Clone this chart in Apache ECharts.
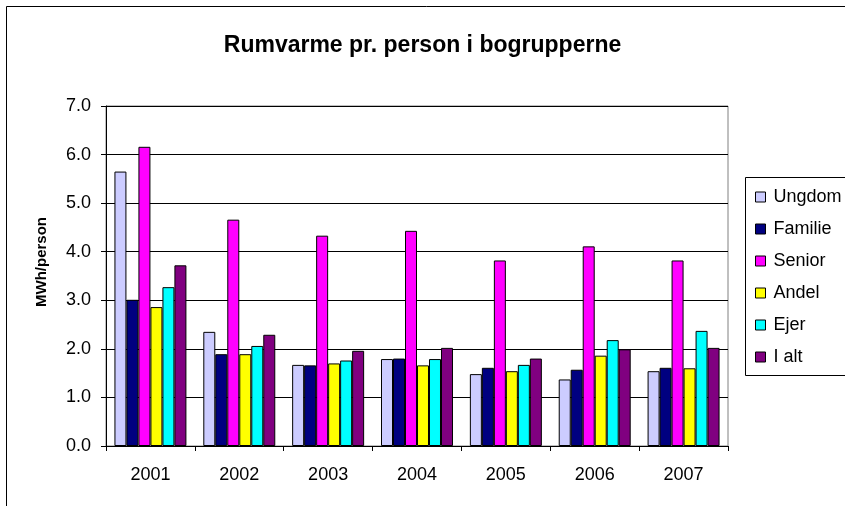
<!DOCTYPE html>
<html>
<head>
<meta charset="utf-8">
<script src="https://cdn.jsdelivr.net/npm/echarts@6/dist/echarts.min.js"></script>
<style>
  html, body { margin: 0; padding: 0; background: #fff; }
  #chart { width: 845px; height: 506px; }
</style>
</head>
<body>
<div id="chart"></div>
<script>
const years = ['2001', '2002', '2003', '2004', '2005', '2006', '2007']
const ungdom = [5.65, 2.35, 1.67, 1.79, 1.48, 1.37, 1.54]
const familie = [3.01, 1.89, 1.66, 1.80, 1.61, 1.57, 1.61]
const senior = [6.16, 4.66, 4.33, 4.43, 3.82, 4.11, 3.82]
const andel = [2.86, 1.89, 1.70, 1.66, 1.54, 1.86, 1.60]
const ejer = [3.27, 2.06, 1.76, 1.79, 1.67, 2.18, 2.37]
const iAlt = [3.72, 2.29, 1.96, 2.02, 1.80, 1.99, 2.02]

const seriesNames = ['Ungdom', 'Familie', 'Senior', 'Andel', 'Ejer', 'I alt']
const seriesData = [ungdom, familie, senior, andel, ejer, iAlt]
const colors = ['#CCCCFF', '#000080', '#FF00FF', '#FFFF00', '#00FFFF', '#800080']

const font = 'Liberation Sans, Arial, sans-serif'

const chart = echarts.init(document.getElementById('chart'))

chart.setOption({
  animation: false,
  color: colors,
  title: {
    text: 'Rumvarme pr. person i bogrupperne',
    left: 'center',
    top: 29,
    textStyle: {
      fontFamily: font,
      fontSize: 23,
      fontWeight: 'bold',
      color: '#000',
    },
  },
  graphic: [
    {
      type: 'rect',
      shape: { x: 6.5, y: 6.5, width: 900, height: 600 },
      style: { fill: 'none', stroke: '#000', lineWidth: 1 },
      z: -1,
    },
    {
      type: 'rect',
      shape: { x: 745.5, y: 177.5, width: 140, height: 198 },
      style: { fill: '#fff', stroke: '#000', lineWidth: 1 },
      z: 0,
    },
  ],
  legend: {
    orient: 'vertical',
    left: 750,
    top: 183,
    itemWidth: 10,
    itemHeight: 10,
    itemGap: 14,
    icon: 'rect',
    itemStyle: { borderColor: '#000', borderWidth: 1 },
    textStyle: { fontFamily: font, fontSize: 18, color: '#000', padding: [0, 0, 0, 3] },
    data: seriesNames,
    z: 5,
  },
  grid: {
    left: 106,
    right: 845 - 728,
    top: 106,
    bottom: 506 - 446,
    show: true,
    borderColor: '#808080',
    borderWidth: 1,
  },
  xAxis: {
    type: 'category',
    data: years,
    axisLine: { lineStyle: { color: '#000', width: 1 } },
    axisTick: { show: true, length: 5, lineStyle: { color: '#000' } },
    axisLabel: { fontFamily: font, fontSize: 18, color: '#000', margin: 20 },
  },
  yAxis: {
    type: 'value',
    min: 0,
    max: 7,
    interval: 1,
    name: 'MWh/person',
    nameLocation: 'middle',
    nameGap: 57,
    nameTextStyle: {
      fontFamily: font,
      fontSize: 15,
      fontWeight: 'bold',
      color: '#000',
      padding: [0, 0, 0, 28],
    },
    axisLine: { show: true, lineStyle: { color: '#000', width: 1 } },
    axisTick: { show: true, length: 5, lineStyle: { color: '#000' } },
    axisLabel: {
      fontFamily: font,
      fontSize: 18,
      color: '#000',
      margin: 15,
      formatter: (v) => v.toFixed(1),
    },
    splitLine: { lineStyle: { color: '#000', width: 1 } },
  },
  series: seriesNames.map((name, i) => ({
    name: name,
    type: 'bar',
    data: seriesData[i],
    barGap: '0%',
    barCategoryGap: '19%',
    itemStyle: { borderColor: '#000', borderWidth: 1 },
  })),
})
</script>
</body>
</html>
